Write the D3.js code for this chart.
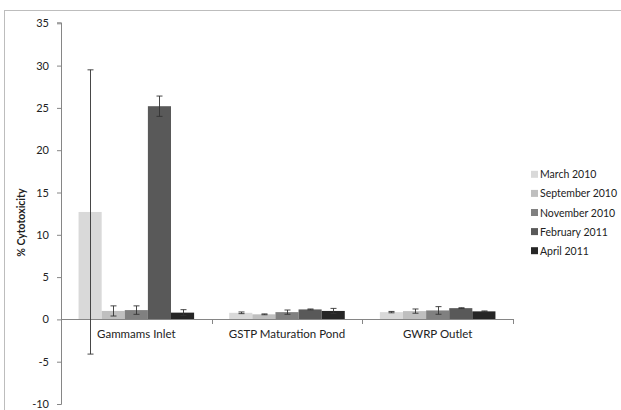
<!DOCTYPE html>
<html><head><meta charset="utf-8">
<script src="https://cdn.jsdelivr.net/npm/d3@7"></script>
<style>
body{margin:0;background:#fff;}
text{font-family:Lato,"Open Sans",sans-serif;fill:#222;}
</style></head>
<body><svg id="c" width="621" height="410"></svg>
<script>
const categories = ["Gammams Inlet","GSTP Maturation Pond","GWRP Outlet"];
const seriesNames = ["March 2010","September 2010","November 2010","February 2011","April 2011"];
const seriesColors = ["#d9d9d9","#bfbfbf","#808080","#595959","#262626"];
// values[series][category]
const values = [
  [12.7, 0.78, 0.86],
  [1.0, 0.6, 0.98],
  [1.1, 0.86, 1.06],
  [25.2, 1.18, 1.33],
  [0.8, 1.0, 0.95]
];
const errors = [
  [16.8, 0.1, 0.08],
  [0.6, 0.05, 0.25],
  [0.5, 0.25, 0.45],
  [1.2, 0.05, 0.05],
  [0.35, 0.3, 0.05]
];
const yTicks = [-10,-5,0,5,10,15,20,25,30,35];
const yLabel = "% Cytotoxicity";

(function(){
const svg = d3.select("#c");
// outer frame
svg.append("rect").attr("x",4.5).attr("y",10.5).attr("width",640).attr("height",420)
  .attr("fill","none").attr("stroke","#bdbdbd").attr("stroke-width",1);

const pLeft = 61, pRight = 513, pTop = 23.3, pBottom = 404;
const y = d3.scaleLinear().domain([-10,35]).range([pBottom, pTop]);
const x0 = d3.scaleBand().domain(categories).range([pLeft,pRight]).paddingInner(0).paddingOuter(0);
const x1 = d3.scaleBand().domain(seriesNames).range([0,x0.bandwidth()]).paddingInner(0).paddingOuter(0.76);

// y axis
const yAxis = d3.axisLeft(y).tickValues(yTicks).tickSize(4).tickPadding(8).tickFormat(d=>String(d));
const ga = svg.append("g").attr("transform",`translate(${pLeft},0)`).call(yAxis);
ga.select(".domain").attr("stroke","#868686").attr("d",`M-4,${y(-10)+0.5}H0.5V${y(35)-0.5}H-4`);
ga.selectAll(".tick line").attr("stroke","#868686");
ga.selectAll(".tick text").style("font-size","11px").attr("fill","#222");

// y label
svg.append("text").attr("transform",`translate(25,${(pTop+pBottom)/2+9}) rotate(-90)`)
  .attr("text-anchor","middle").style("font-size","10.5px").style("font-weight","bold").text(yLabel);

// bars
const groups = svg.append("g");
seriesNames.forEach((s,si)=>{
  categories.forEach((c,ci)=>{
    const v = values[si][ci];
    const bx = x0(c)+x1(s);
    groups.append("rect").attr("x",bx).attr("y",y(v)).attr("width",x1.bandwidth())
      .attr("height",y(0)-y(v)).attr("fill",seriesColors[si]);
  });
});

// x axis line
svg.append("line").attr("x1",pLeft).attr("x2",pRight).attr("y1",Math.round(y(0))+0.5).attr("y2",Math.round(y(0))+0.5)
  .attr("stroke","#868686");
const bounds = categories.map(c=>x0(c)+x0.bandwidth());
svg.selectAll(".xt").data(bounds).enter().append("line")
  .attr("x1",d=>Math.round(d)+0.5).attr("x2",d=>Math.round(d)+0.5)
  .attr("y1",Math.round(y(0))).attr("y2",Math.round(y(0))+5).attr("stroke","#868686");
svg.selectAll(".xl").data(categories).enter().append("text")
  .attr("x",d=>x0(d)+x0.bandwidth()/2).attr("y",338).attr("text-anchor","middle")
  .style("font-size","11.5px").text(d=>d);

// error bars
seriesNames.forEach((s,si)=>{
  categories.forEach((c,ci)=>{
    const v = values[si][ci], e = errors[si][ci];
    const cx = Math.round(x0(c)+x1(s)+x1.bandwidth()/2)+0.5;
    const g = svg.append("g").attr("stroke","#333").attr("stroke-width",0.9);
    g.append("line").attr("x1",cx).attr("x2",cx).attr("y1",y(v+e)).attr("y2",y(v-e));
    g.append("line").attr("x1",cx-3).attr("x2",cx+3).attr("y1",y(v+e)).attr("y2",y(v+e));
    g.append("line").attr("x1",cx-3).attr("x2",cx+3).attr("y1",y(v-e)).attr("y2",y(v-e));
  });
});

// legend
const lg = svg.append("g");
seriesNames.forEach((s,i)=>{
  const cy = 174.3 + i*19.1;
  lg.append("rect").attr("x",531).attr("y",cy-3.5).attr("width",7).attr("height",7).attr("fill",seriesColors[i]);
  lg.append("text").attr("x",540).attr("y",cy+4).style("font-size","10.5px").text(s);
});
})();
</script></body></html>
